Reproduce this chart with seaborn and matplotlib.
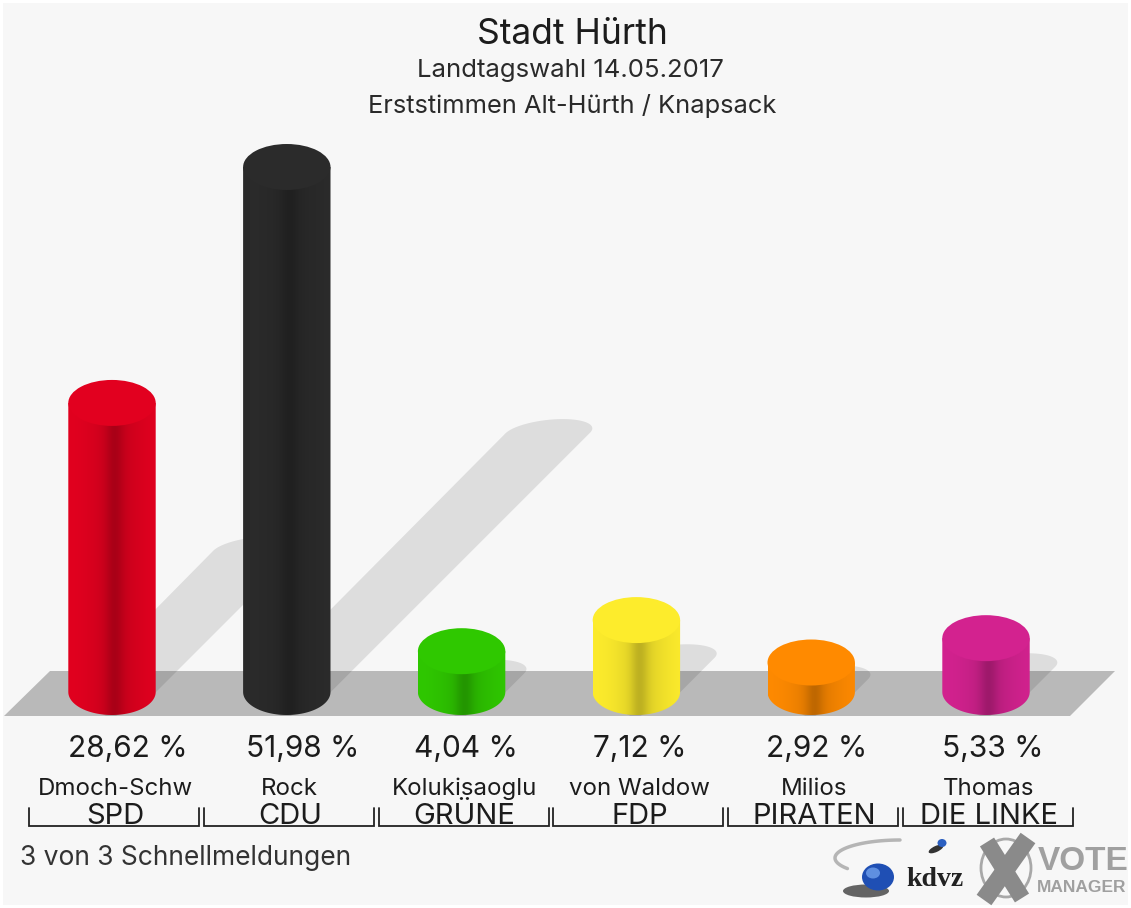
import numpy as np
import pandas as pd
import matplotlib
matplotlib.use("Agg")
import matplotlib.pyplot as plt
import seaborn as sns
from matplotlib.colors import to_rgb
from matplotlib.patches import Ellipse, Polygon, PathPatch, Rectangle
from matplotlib.path import Path
from matplotlib.transforms import Affine2D

# values
parties = ["SPD", "CDU", "GRÜNE", "FDP", "PIRATEN", "DIE LINKE"]
candidates = ["Dmoch-Schw", "Rock", "Kolukisaoglu", "von Waldow", "Milios", "Thomas"]
shares = [28.62, 51.98, 4.04, 7.12, 2.92, 5.33]
share_labels = ["28,62 %", "51,98 %", "4,04 %", "7,12 %", "2,92 %", "5,33 %"]
bar_colors = ["#e2001f", "#2b2b2b", "#2fc800", "#fdec2c", "#ff8a00", "#d3228f"]

W, H = 1131, 908
BG = "#f7f7f7"
FONT = "Inter"

sns.set_theme(style="white")
plt.rcParams["font.family"] = [FONT, "Liberation Sans", "DejaVu Sans"]

# geometry of the picture in pixels
x0_px, step_px = 112, 174.8
base_px, px_per_pct = 692, 10.1
cap_px = 46

fig = plt.figure(figsize=(W / 100, H / 100), dpi=100, facecolor="white")
ax = fig.add_axes([0, 0, 1, 1])
ax.set_facecolor("none")

xlim = (-x0_px / step_px, (W - x0_px) / step_px)
ylim = (-(H - base_px) / px_per_pct, base_px / px_per_pct)

# pixel coordinates, origin top left
px = Affine2D().scale(1 / W, -1 / H).translate(0, 1) + fig.transFigure


def shade(color, x):
    # darker in the middle of the cylinder
    c = np.array(to_rgb(color))
    f = 1 - 0.14 * np.exp(-((x - 0.53) / 0.10) ** 2) - 0.11 * np.exp(-((x - 0.55) / 0.30) ** 2)
    return np.clip(c * f[:, None], 0, 1)


df = pd.DataFrame({"party": parties, "share": shares})
sns.barplot(data=df, x="party", y="share", hue="party", palette=bar_colors, legend=False,
            width=0.5, saturation=1, ax=ax, zorder=3)
bars = sorted(ax.patches, key=lambda b: b.get_x())
ax.set_xlim(xlim)
ax.set_ylim(ylim)
ax.axis("off")

# background and floor
ax.add_patch(Rectangle((3, 3), W - 6, H - 6, transform=px, fc=BG, ec="none", zorder=0))
ax.add_patch(Polygon([(4, 716), (50, 671), (1115, 671), (1070, 716)], closed=True,
                     transform=px, fc="#b9b9b9", ec="none", zorder=1))

cap_h = cap_px / px_per_pct
for bar, color, v in zip(bars, bar_colors, shares):
    left, w = bar.get_x(), bar.get_width()
    mid = left + w / 2
    # shadow falling back to the right
    cx = ax.transData.transform((mid, 0))[0]
    off = v * 5.02
    t = np.linspace(0, np.pi, 40)
    arc = [(cx + off + 42 * np.cos(i) + 15 * np.sin(i), 694 - off - 14 * np.sin(i)) for i in t]
    ax.add_patch(Polygon([(cx + 42, 694)] + arc + [(cx - 42, 696), (cx - 6, 716), (cx + 4, 716)],
                         closed=True, transform=px, fc="black", ec="none", alpha=0.1, zorder=2))

    # cylinder body with horizontal gradient, clipped to body plus lower cap
    img = shade(color, np.linspace(0, 1, 128))[None, :, :]
    im = ax.imshow(img, extent=(left, left + w, -cap_h / 2, v), aspect="auto", zorder=4,
                   interpolation="bilinear")
    a = np.linspace(np.pi, 2 * np.pi, 60)
    verts = [(left, v)] + [(mid + w / 2 * np.cos(i), cap_h / 2 * np.sin(i)) for i in a] + [(left + w, v), (left, v)]
    im.set_clip_path(PathPatch(Path(verts), transform=ax.transData))

    # top cap
    ax.add_patch(Ellipse((mid, v), w, cap_h, fc=color, ec="none", zorder=5))
    bar.set_visible(False)
ax.set_xlim(xlim)
ax.set_ylim(ylim)


def ptext(x, y, s, size, color="#1c1c1c", ha="center", **kw):
    ax.text(x, y, s, transform=px, fontsize=size, color=color, ha=ha, va="center", zorder=8, **kw)


# titles
ptext(572, 35, "Stadt Hürth", 25.5)
ptext(570, 70, "Landtagswahl 14.05.2017", 18.5, color="#2a2a2a")
ptext(572, 106, "Erststimmen Alt-Hürth / Knapsack", 18.3, color="#2a2a2a")

# labels below the bars
centers_px = [128, 303, 466, 640, 817, 993]
for i in range(len(parties)):
    ptext(centers_px[i], 749, share_labels[i], 21.5)
    ptext(x0_px + step_px * i + 3, 789, candidates[i], 17.3)
    ptext(x0_px + step_px * i + 3, 817, parties[i], 21)
    # bracket
    l, r = 29 + step_px * i, 199 + step_px * i
    ax.plot([l, l, r, r], [808, 826, 826, 808], transform=px, color="#222222", lw=1.3, zorder=8,
            solid_joinstyle="miter")

ptext(20, 858, "3 von 3 Schnellmeldungen", 19, ha="left", color="#333333")

# kdvz logo
swoosh_t = np.linspace(np.pi * 0.5, np.pi * 1.2, 40)
ax.plot(900 + 65 * np.cos(swoosh_t), 858 - 18 * np.sin(swoosh_t), transform=px,
        color="#b5b5b5", lw=2.5, zorder=6)
ax.add_patch(Ellipse((866, 891), 46, 13, transform=px, fc="#333333", ec="none", alpha=0.75, zorder=6))
ax.add_patch(Ellipse((878, 877), 32, 27, transform=px, fc="#1f4fb4", ec="none", zorder=7))
ax.add_patch(Ellipse((873, 873), 14, 11, transform=px, fc="#5f8fe0", ec="none", zorder=7))
ax.add_patch(Ellipse((936, 849), 16, 6, angle=-25, transform=px, fc="#333333", ec="none", zorder=6))
ax.add_patch(Ellipse((942, 843), 9, 8, transform=px, fc="#2b5fc0", ec="none", zorder=7))
ptext(935, 879, "kdvz", 20, color="#222222", family="Liberation Serif", weight="bold")

# vote manager logo
ax.add_patch(Ellipse((1006, 868), 50, 58, transform=px, fc="none", ec="#a8a8a8", lw=2, zorder=6))
ax.plot([987, 1022], [842, 898], transform=px, color="#8a8a8a", lw=12, solid_capstyle="butt", zorder=7)
ax.plot([1028, 984], [838, 900], transform=px, color="#8a8a8a", lw=13, solid_capstyle="butt", zorder=7)
ptext(1038, 861, "VOTE", 24, color="#a0a0a0", ha="left", weight="bold", family="Liberation Sans")
ptext(1037, 888, "MANAGER", 12.5, color="#a0a0a0", ha="left", weight="bold", family="Liberation Sans")

ax.set_xlim(xlim)
ax.set_ylim(ylim)
fig.savefig("out.png", dpi=100)
